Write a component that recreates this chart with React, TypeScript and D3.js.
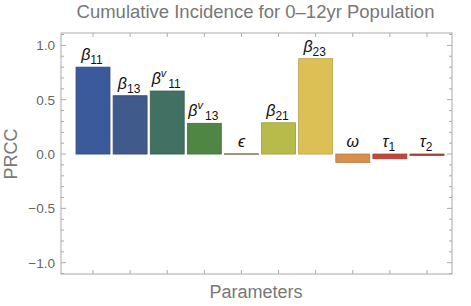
import React from "react";
import * as d3 from "d3";

const categories = ["b11", "b13", "bv11", "bv13", "eps", "b21", "b23", "omega", "tau1", "tau2"];
const values = [0.8, 0.537, 0.58, 0.283, 0.004, 0.288, 0.878, -0.077, -0.043, -0.012];
const colors = ["#3b5a9b", "#3f5a8b", "#427062", "#4f8545", "#a3a88a", "#b8bb4a", "#dcbf55", "#d78f4a", "#c8443a", "#b8383a"];
const labelMain = ["β", "β", "β", "β", "ϵ", "β", "β", "ω", "τ", "τ"];
const labelSup = ["", "", "v", "v", "", "", "", "", "", ""];
const labelSub = ["11", "13", "11", "13", "", "21", "23", "", "1", "2"];
const yTicksMajor = [-1, -0.5, 0, 0.5, 1];
const yTickLabels = ["−1.0", "−0.5", "0.0", "0.5", "1.0"];

const W = 471, H = 306;
const frame = { l: 61, r: 452, t: 33, b: 274 };
const font = "Liberation Sans, Arial, sans-serif";
const gray = "#666";

export default function App() {
  const x = d3.scaleLinear().domain([0, 9]).range([93, 427]);
  const y = d3.scaleLinear().domain([-1, 1]).range([262.7, 45.4]);
  const step = x(1) - x(0);
  const bw = step * 0.915;
  const minor = d3.range(-11, 12).map((d) => d / 10);

  return (
    <div style={{ position: "fixed", left: 0, top: 0 }}>
      <svg width={W} height={H} style={{ display: "block", background: "#fff" }}>
        <text x={255.5} y={18} textAnchor="middle" fontFamily={font} fontSize={18.5} fill="#777">
          Cumulative Incidence for 0–12yr Population
        </text>
        {/* bars */}
        {values.map((v, i) => {
          const y0 = y(0), y1 = y(v);
          const top = Math.min(y0, y1);
          const h = Math.max(Math.abs(y1 - y0), 1);
          const c = d3.color(colors[i])!;
          return (
            <rect key={categories[i]} x={x(i) - bw / 2} y={top} width={bw} height={h}
              fill={colors[i]} stroke={c.darker(0.5).formatHex()} strokeWidth={0.8} />
          );
        })}
        {/* labels */}
        {values.map((v, i) => {
          const base = y(Math.max(v, 0)) - 7;
          const hasSub = labelSub[i] !== "";
          return (
            <text key={"l" + i} x={x(i) - (hasSub ? 1 : 0)} y={base} textAnchor="middle" fontFamily={font} fill="#111">
              <tspan fontSize={16} fontStyle="italic">{labelMain[i]}</tspan>
              {labelSup[i] && <tspan fontSize={11} fontStyle="italic" dy={-7}>{labelSup[i]}</tspan>}
              {labelSub[i] && <tspan fontSize={12} dx={labelSup[i] ? 2 : 0} dy={labelSup[i] ? 11 : 4}>{labelSub[i]}</tspan>}
            </text>
          );
        })}
        {/* frame */}
        <rect x={frame.l} y={frame.t} width={frame.r - frame.l} height={frame.b - frame.t} fill="none" stroke="#aaa" strokeWidth={1} />
        {/* y ticks */}
        {minor.map((t) => {
          const isMajor = Math.abs(t * 2 - Math.round(t * 2)) < 1e-6;
          const len = isMajor ? 5 : 3;
          const yy = y(t);
          if (yy < frame.t || yy > frame.b) return null;
          return (
            <g key={"yt" + t}>
              <line x1={frame.l} x2={frame.l + len} y1={yy} y2={yy} stroke="#aaa" />
              <line x1={frame.r} x2={frame.r - len} y1={yy} y2={yy} stroke="#aaa" />
            </g>
          );
        })}
        {yTicksMajor.map((t, i) => (
          <text key={"yl" + i} x={55} y={y(t) + 5} textAnchor="end" fontFamily={font} fontSize={13.5} fill={gray}>
            {yTickLabels[i]}
          </text>
        ))}
        {/* x ticks */}
        {categories.map((c, i) => (
          <g key={"xt" + c}>
            <line x1={x(i)} x2={x(i)} y1={frame.b} y2={frame.b - 4} stroke="#aaa" />
            <line x1={x(i)} x2={x(i)} y1={frame.t} y2={frame.t + 4} stroke="#aaa" />
          </g>
        ))}
        <text x={256} y={298} textAnchor="middle" fontFamily={font} fontSize={18} fill="#777">Parameters</text>
        <text transform={`translate(17,154) rotate(-90)`} textAnchor="middle" fontFamily={font} fontSize={18} fill="#777">PRCC</text>
      </svg>
    </div>
  );
}
